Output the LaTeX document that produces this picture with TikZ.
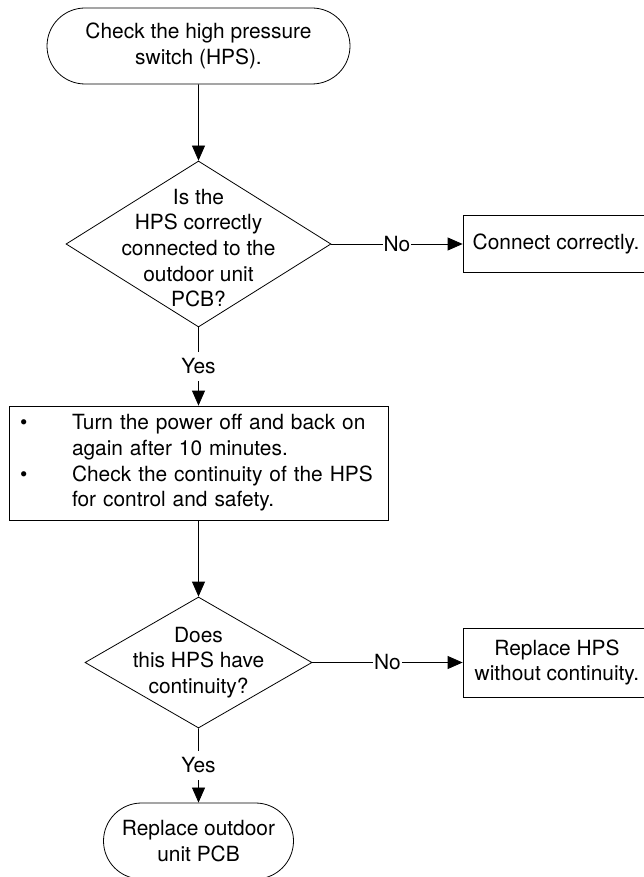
\documentclass[tikz,border=0pt]{standalone}
\usepackage{fontspec}
\setmainfont{TeX Gyre Heros}
\usepackage{tikz}
\usetikzlibrary{shapes,arrows.meta,positioning}
\tikzstyle{terminal} = [draw, rounded rectangle, minimum height=76pt, inner sep=0pt, align=center]
\tikzstyle{decision} = [draw, diamond, inner sep=0pt]
\tikzstyle{block} = [draw, rectangle, align=center]
\tikzstyle{steps} = [draw, rectangle, align=left, inner xsep=11pt]
\tikzstyle{answer} = [fill=white, inner xsep=1pt, inner ysep=7pt]
\newcommand{\bul}{\makebox[52pt][l]{\textbullet}}
\newcommand{\ind}{\hspace*{52pt}}

\begin{document}
\begin{tikzpicture}[node distance=198pt, font=\fontsize{20.9pt}{25.6pt}\selectfont, >={Triangle[length=15pt,width=13pt]}, line width=0.8pt]
    \useasboundingbox (0,0) rectangle (644pt,-877pt);
    \clip (0,0) rectangle (644pt,-877pt);
    % Nodes
    \node [terminal, minimum width=303pt] (check) at (198.5pt,-46pt) {Check the high pressure\\switch (HPS).};
    \node [decision, below of=check, minimum width=265pt, minimum height=166pt, label={[align=center, yshift=-4pt]center:{Is the\\HPS correctly\\connected to the\\outdoor unit\\PCB?}}] (connected) {};
    \node [block, right of=connected, node distance=357.5pt, minimum width=186pt, minimum height=57pt] (fix) {Connect correctly.};
    \node [steps, below of=connected, node distance=219pt, text width=357pt, minimum height=114pt] (power) {\bul Turn the power off and back on\\\ind again after 10 minutes.\\\bul Check the continuity of the HPS\\\ind for control and safety.};
    \node [decision, below of=power, node distance=199.5pt, minimum width=227pt, minimum height=131pt, label={[align=center]center:{Does\\this HPS have\\continuity?}}] (continuity) {};
    \node [block, right of=continuity, node distance=358.5pt, minimum width=188pt, minimum height=69pt] (replace) {Replace HPS\\without continuity.};
    \node [terminal, below of=continuity, node distance=178.5pt, minimum width=190pt] (pcb) {Replace outdoor\\unit PCB};

    % Connections
    \draw [->] (check) -- (connected);
    \draw [->] (connected) -- node [answer] {No} (fix);
    \draw [->] (connected) -- node [answer] {Yes} (power);
    \draw [->] (power) -- (continuity);
    \draw [->] (continuity) -- node [answer] {No} (replace);
    \draw [->] (continuity) -- node [answer] {Yes} (pcb);
\end{tikzpicture}
\end{document}
